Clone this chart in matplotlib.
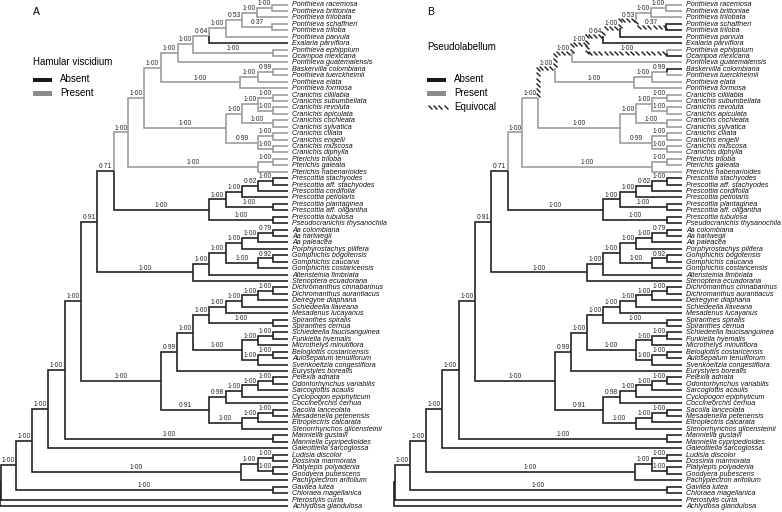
import numpy as np
import matplotlib
matplotlib.use('Agg')
import matplotlib.pyplot as plt
from matplotlib.patches import Rectangle
from matplotlib.path import Path

plt.rcParams['font.family'] = ['Liberation Sans', 'DejaVu Sans']

TIP = 288          # depth where every terminal ends
Y0, DY = 4.5, 6.43  # first terminal and spacing between terminals
PANEL_B_SHIFT = 394

BLACK = '#1a1a1a'
GREY = '#999999'


def clade(support, depth, *children):
    return {'name': '', 'support': support, 'depth': depth, 'children': list(children)}


# ---- tree (Bayesian consensus, posterior probabilities on branches) ----
ponthieva = clade('1·00', 161,
    clade('1·00', 178,
        clade('1·00', 193,
            clade('0·64', 209,
                clade('1·00', 226,
                    clade('0·53', 242,
                        clade('1·00', 257,
                            clade('1·00', 272, 'Ponthieva racemosa', 'Ponthieva brittoniae'),
                            'Ponthieva trilobata'),
                        clade('0·37', 272, 'Ponthieva schaffneri', 'Ponthieva triloba')),
                    'Ponthieva parvula'),
                'Exalaria parviflora'),
            clade('1·00', 273, 'Ponthieva ephippium', 'Ocampoa mexicana')),
        'Ponthieva guatemalensis'),
    clade('1·00', 240,
        clade('1·00', 258,
            clade('0·99', 273, 'Baskervilla colombiana', 'Ponthieva tuerckheimii'),
            'Ponthieva elata'),
        'Ponthieva formosa'))

cranichis = clade('1·00', 226,
    clade('1·00', 242,
        clade('1·00', 258,
            clade('1·00', 273, 'Cranichis ciliilabia', 'Cranichis subumbellata'),
            clade('1·00', 273, 'Cranichis revoluta', 'Cranichis apiculata')),
        clade('1·00', 273, 'Cranichis cochleata', 'Cranichis sylvatica')),
    clade('0·99', 258,
        clade('1·00', 273, 'Cranichis ciliata', 'Cranichis engelii'),
        clade('1·00', 273, 'Cranichis muscosa', 'Cranichis diphylla')))

pterichis = clade('1·00', 258,
    clade('1·00', 273, 'Pterichis triloba', 'Pterichis galeata'),
    'Pterichis habenarioides')

cranichidinae = clade('1·00', 128, clade('1·00', 144, ponthieva, cranichis), pterichis)

prescottia = clade('1·00', 209,
    clade('1·00', 226,
        clade('1·00', 242,
            clade('0·62', 258,
                clade('1·00', 273, 'Prescottia stachyodes', 'Prescottia aff. stachyodes'),
                'Prescottia cordifolia'),
            'Prescottia petiolaris'),
        clade('1·00', 273, 'Prescottia plantaginea', 'Prescottia aff. oligantha')),
    clade('1·00', 273, 'Prescottia tubulosa', 'Pseudocranichis thysanochila'))

aa_gomphichis = clade('1·00', 193,
    clade('1·00', 209,
        clade('1·00', 226,
            clade('1·00', 242,
                clade('1·00', 258,
                    clade('0·79', 273, 'Aa colombiana', 'Aa hartwegii'),
                    'Aa paleacea'),
                'Porphyrostachys pilifera'),
            clade('1·00', 258,
                clade('0·92', 273, 'Gomphichis bogotensis', 'Gomphichis caucana'),
                'Gomphichis costaricensis')),
        'Altensteinia fimbriata'),
    'Stenoptera ecuadorana')

spiranthinae = clade('0·99', 177,
    clade('1·00', 193,
        clade('1·00', 209,
            clade('1·00', 226,
                clade('1·00', 242,
                    clade('1·00', 258,
                        clade('1·00', 273, 'Dichromanthus cinnabarinus', 'Dichromanthus aurantiacus'),
                        'Deiregyne diaphana'),
                    'Schiedeella llaveana'),
                'Mesadenus lucayanus'),
            clade('1·00', 273, 'Spiranthes spiralis', 'Spiranthes cernua')),
        clade('1·00', 242,
            clade('1·00', 258,
                clade('1·00', 273, 'Schiedeella faucisanguinea', 'Funkiella hyemalis'),
                'Microthelys minutiflora'),
            clade('1·00', 258,
                clade('1·00', 273, 'Beloglottis costaricensis', 'Aulosepalum tenuiflorum'),
                'Svenkoeltzia congestiflora'))),
    'Eurystyles borealis')

pelexia = clade('0·91', 209,
    clade('0·98', 226,
        clade('1·00', 242,
            clade('1·00', 258,
                clade('1·00', 273, 'Pelexia adnata', 'Odontorhynchus variabilis'),
                'Sarcoglottis acaulis'),
            'Cyclopogon epiphyticum'),
        'Coccineorchis cernua'),
    clade('1·00', 242,
        clade('1·00', 258,
            clade('1·00', 273, 'Sacoila lanceolata', 'Mesadenella petenensis'),
            'Eltroplectris calcarata'),
        'Stenorrhynchos glicensteinii'))

goodyerinae = clade('1·00', 241,
    clade('1·00', 258,
        clade('1·00', 273, 'Ludisia discolor', 'Dossinia marmorata'),
        clade('1·00', 273, 'Platylepis polyadenia', 'Goodyera pubescens')),
    'Pachyplectron arifolium')

cranichideae = clade('1·00', 81,
    clade('0·91', 97, clade('0·71', 114, cranichidinae, prescottia), aa_gomphichis),
    clade('1·00', 161, spiranthinae, pelexia))

ingroup = clade('1·00', 16,
    clade('1·00', 32,
        clade('1·00', 48,
            clade('1·00', 65, cranichideae,
                  clade('1·00', 273, 'Manniella gustavi', 'Manniella cypripedioides')),
            'Galeottiella sarcoglossa'),
        goodyerinae),
    clade('1·00', 273, 'Gavilea lutea', 'Chloraea magellanica'))

tree = clade('', 0, clade('', 1, ingroup, 'Pterostylis curta'), 'Achlydosa glandulosa')

# ---- character state changes (clade given by first and last terminal) ----
hamular_changes = {
    ('Ponthieva racemosa', 'Pterichis habenarioides'): 'present',
    'Exalaria parviflora': 'absent',
}

pseudolabellum_changes = {
    ('Ponthieva racemosa', 'Pterichis habenarioides'): 'present',
    ('Ponthieva racemosa', 'Ponthieva formosa'): 'equivocal',
    ('Baskervilla colombiana', 'Ponthieva formosa'): 'present',
    ('Ponthieva racemosa', 'Ponthieva trilobata'): 'present',
    'Ponthieva guatemalensis': 'present',
    'Ponthieva ephippium': 'present',
    'Ocampoa mexicana': 'absent',
    'Exalaria parviflora': 'absent',
    'Ponthieva parvula': 'absent',
    'Ponthieva schaffneri': 'absent',
    'Ponthieva triloba': 'absent',
    'Baskervilla colombiana': 'absent',
}


def build(node, parent, nodes, leaves):
    """Copy the nested clades into flat node dicts with y positions."""
    if isinstance(node, str):
        node = {'name': node, 'support': '', 'depth': TIP, 'children': []}
    else:
        node = dict(node)
    node['parent'] = parent
    nodes.append(node)
    if node['children']:
        kids = [build(c, node, nodes, leaves) for c in node['children']]
        node['children'] = kids
        node['y'] = (kids[0]['y'] + kids[-1]['y']) / 2
        node['span'] = (kids[0]['span'][0], kids[-1]['span'][1])
    else:
        node['y'] = Y0 + len(leaves) * DY
        node['span'] = (node['name'], node['name'])
        leaves.append(node)
    return node


def states_for(nodes, changes):
    states = {}
    for n in nodes:
        key = n['name'] if not n['children'] else n['span']
        inherited = states[id(n['parent'])] if n['parent'] is not None else 'absent'
        states[id(n)] = changes.get(key, inherited)
    return states


TICK = Path([(-1, 1), (1, -1)], [Path.MOVETO, Path.LINETO])


def hatch(ax, x0, y0, x1, y1, step=5.3):
    length = np.hypot(x1 - x0, y1 - y0)
    if length < 1:
        return
    t = np.arange(step / 2, length, step) / length
    if len(t) == 0:
        t = np.array([0.5])
    ax.plot(x0 + (x1 - x0) * t, y0 + (y1 - y0) * t, ls='none', marker=TICK,
            ms=2.8, mew=1.0, mec=BLACK, zorder=3)


def draw_tree(ax, nodes, states, shift):
    colours = {'absent': BLACK, 'present': GREY}
    for n in nodes:
        p = n['parent']
        if p is None:
            continue
        px, nx = p['depth'] + shift, n['depth'] + shift
        s = states[id(n)]
        if s == 'equivocal':
            hatch(ax, px, p['y'], px, n['y'])
            hatch(ax, px, n['y'], nx, n['y'])
        else:
            ax.plot([px, px, nx], [p['y'], n['y'], n['y']], color=colours[s],
                    lw=1.15, solid_joinstyle='miter', solid_capstyle='butt',
                    zorder=2 if s == 'absent' else 1)
        if n['support']:
            ax.text((px + nx) / 2, n['y'] - 0.9, n['support'], ha='center',
                    va='bottom', fontsize=4.8, color='#222222', zorder=4)
        if not n['children']:
            ax.text(nx + 4.5, n['y'] + 2.0, n['name'], style='italic', fontsize=5.1,
                    va='baseline', ha='left', color='#111111')


def draw_legend(ax, x, title, letter, equivocal=False):
    ax.text(x, 12, letter, fontsize=7.5, va='center', ha='left')
    ax.text(x, 62 if not equivocal else 47, title, fontsize=7, va='center', ha='left')
    ax.add_patch(Rectangle((x, 77.5), 19, 4.8, color=BLACK, lw=0))
    ax.text(x + 27, 79.5, 'Absent', fontsize=7, va='center')
    ax.add_patch(Rectangle((x, 91), 19, 4.8, color='#8c8c8c', lw=0))
    ax.text(x + 27, 93, 'Present', fontsize=7, va='center')
    if equivocal:
        hatch(ax, x, 106.5, x + 21, 106.5)
        ax.text(x + 27, 106.5, 'Equivocal', fontsize=7, va='center')


def main():
    nodes, leaves = [], []
    build(tree, None, nodes, leaves)

    fig = plt.figure(figsize=(7.82, 5.12), dpi=100)
    ax = fig.add_axes([0, 0, 1, 1])
    ax.set_xlim(0, 782)
    ax.set_ylim(512, 0)
    ax.axis('off')

    draw_tree(ax, nodes, states_for(nodes, hamular_changes), 0)
    draw_tree(ax, nodes, states_for(nodes, pseudolabellum_changes), PANEL_B_SHIFT)
    draw_legend(ax, 33, 'Hamular viscidium', 'A')
    draw_legend(ax, 427, 'Pseudolabellum', 'B', equivocal=True)

    fig.savefig('out.png', dpi=100)


if __name__ == '__main__':
    main()
